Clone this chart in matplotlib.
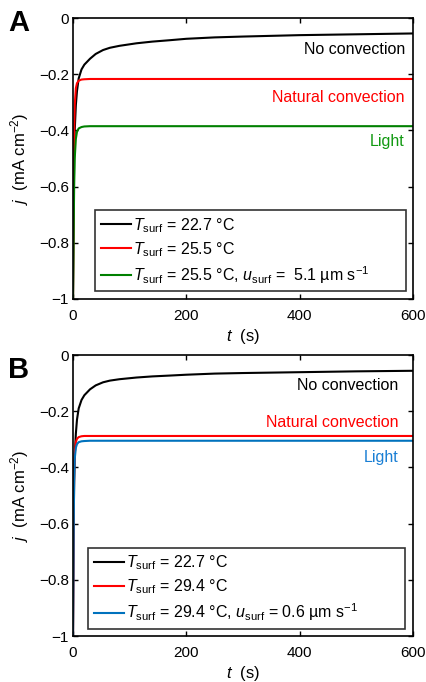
import matplotlib
matplotlib.use("Agg")
import matplotlib.pyplot as plt

plt.rcParams["font.family"] = ["Liberation Sans", "DejaVu Sans"]
plt.rcParams["mathtext.fontset"] = "custom"
plt.rcParams["mathtext.rm"] = "Liberation Sans"
plt.rcParams["mathtext.it"] = "Liberation Sans:italic"
plt.rcParams["mathtext.bf"] = "Liberation Sans:bold"

# time samples (s)
t_pts = [0, 1, 2, 3, 5, 7, 10, 15, 20, 30, 40, 53, 65, 82, 112, 140, 171, 200, 250, 300, 400, 500, 600]

# panel A current densities (mA cm^-2)
j_a_none = [-1.0, -0.7, -0.5, -0.4, -0.31, -0.26, -0.215, -0.183, -0.166, -0.145, -0.128, -0.114,
            -0.106, -0.099, -0.09, -0.084, -0.079, -0.074, -0.069, -0.066, -0.061, -0.058, -0.055]
j_a_nat = [-1.0, -0.6, -0.4, -0.31, -0.25, -0.232, -0.223, -0.219, -0.218, -0.217, -0.217, -0.217,
           -0.217, -0.217, -0.217, -0.217, -0.217, -0.217, -0.217, -0.217, -0.217, -0.217, -0.217]
j_a_light = [-1.0, -0.78, -0.6, -0.5, -0.43, -0.405, -0.393, -0.388, -0.386, -0.385, -0.385, -0.385,
             -0.385, -0.385, -0.385, -0.385, -0.385, -0.385, -0.385, -0.385, -0.385, -0.385, -0.385]

# panel B current densities (mA cm^-2)
j_b_none = [-1.0, -0.65, -0.45, -0.36, -0.28, -0.23, -0.19, -0.16, -0.143, -0.122, -0.108, -0.097,
            -0.091, -0.086, -0.08, -0.076, -0.073, -0.07, -0.066, -0.064, -0.061, -0.058, -0.056]
j_b_nat = [-1.0, -0.6, -0.42, -0.35, -0.31, -0.298, -0.292, -0.289, -0.288, -0.288, -0.288, -0.288,
           -0.288, -0.288, -0.288, -0.288, -0.288, -0.288, -0.288, -0.288, -0.288, -0.288, -0.288]
j_b_light = [-1.0, -0.65, -0.45, -0.37, -0.33, -0.317, -0.31, -0.307, -0.306, -0.305, -0.305, -0.305,
             -0.305, -0.305, -0.305, -0.305, -0.305, -0.305, -0.305, -0.305, -0.305, -0.305, -0.305]

legend_a = [r"$T_{\rm surf}$ = 22.7 °C",
            r"$T_{\rm surf}$ = 25.5 °C",
            r"$T_{\rm surf}$ = 25.5 °C, $u_{\rm surf}$ =  5.1 µm s$^{-1}$"]
legend_b = [r"$T_{\rm surf}$ = 22.7 °C",
            r"$T_{\rm surf}$ = 29.4 °C",
            r"$T_{\rm surf}$ = 29.4 °C, $u_{\rm surf}$ = 0.6 µm s$^{-1}$"]

curve_names = ["No convection", "Natural convection", "Light"]
label_y_a = [-0.129, -0.299, -0.454]
label_y_b = [-0.125, -0.256, -0.379]

x_ticks = [0, 200, 400, 600]
y_ticks = [-1, -0.8, -0.6, -0.4, -0.2, 0]
y_ticklabels = ["\u22121", "\u22120.8", "\u22120.6", "\u22120.4", "\u22120.2", "0"]

fig = plt.figure(figsize=(4.27, 6.82), dpi=100)
ax_a = fig.add_axes([0.171, 0.5616, 0.796, 0.412])
ax_b = fig.add_axes([0.171, 0.0674, 0.796, 0.412])


def draw_panel(ax, curves, colors, text_colors, labels, label_y, label_x, leg_box):
    for jv, c, lab in zip(curves, colors, labels):
        ax.plot(t_pts, jv, color=c, lw=1.5, label=lab, solid_joinstyle="round")
    for name, yv, tc in zip(curve_names, label_y, text_colors):
        ax.text(label_x, yv, name, color=tc, fontsize=11.5, ha="right", va="baseline")

    ax.set_xlim(0, 600)
    ax.set_ylim(-1, 0)
    ax.set_xticks(x_ticks)
    ax.set_xticklabels([str(v) for v in x_ticks], fontsize=11)
    ax.set_yticks(y_ticks)
    ax.set_yticklabels(y_ticklabels, fontsize=11)
    ax.tick_params(direction="in", top=True, right=True, length=3.5, width=1)
    ax.tick_params(axis="x", pad=7)
    ax.tick_params(axis="y", pad=3)
    for sp in ax.spines.values():
        sp.set_linewidth(1.2)
    ax.set_xlabel(r"$t$  (s)", fontsize=12, labelpad=3)
    ax.set_ylabel(r"$j$  (mA cm$^{-2}$)", fontsize=12, labelpad=6)

    leg = ax.legend(loc="lower left", bbox_to_anchor=leg_box, mode="expand",
                    fontsize=11.5, frameon=True, fancybox=False, handlelength=1.9,
                    handletextpad=0.1, borderpad=0.35, labelspacing=0.33, borderaxespad=0)
    leg.get_frame().set_edgecolor("black")
    leg.get_frame().set_linewidth(1.2)


draw_panel(ax_a, [j_a_none, j_a_nat, j_a_light],
           ["#000000", "#ff0000", "#008000"],
           ["#000000", "#ff0000", "#119911"],
           legend_a, label_y_a, 586, (0.065, 0.028, 0.914, 0.292))
draw_panel(ax_b, [j_b_none, j_b_nat, j_b_light],
           ["#000000", "#ff0000", "#0072bd"],
           ["#000000", "#ff0000", "#1a7fd4"],
           legend_b, label_y_b, 575, (0.044, 0.025, 0.932, 0.299))

fig.text(8 / 427, 1 - 23 / 682, "A", fontsize=21, fontweight="bold", ha="left", va="center")
fig.text(8 / 427, 1 - 370 / 682, "B", fontsize=21, fontweight="bold", ha="left", va="center")

fig.savefig("out.png", dpi=100)
